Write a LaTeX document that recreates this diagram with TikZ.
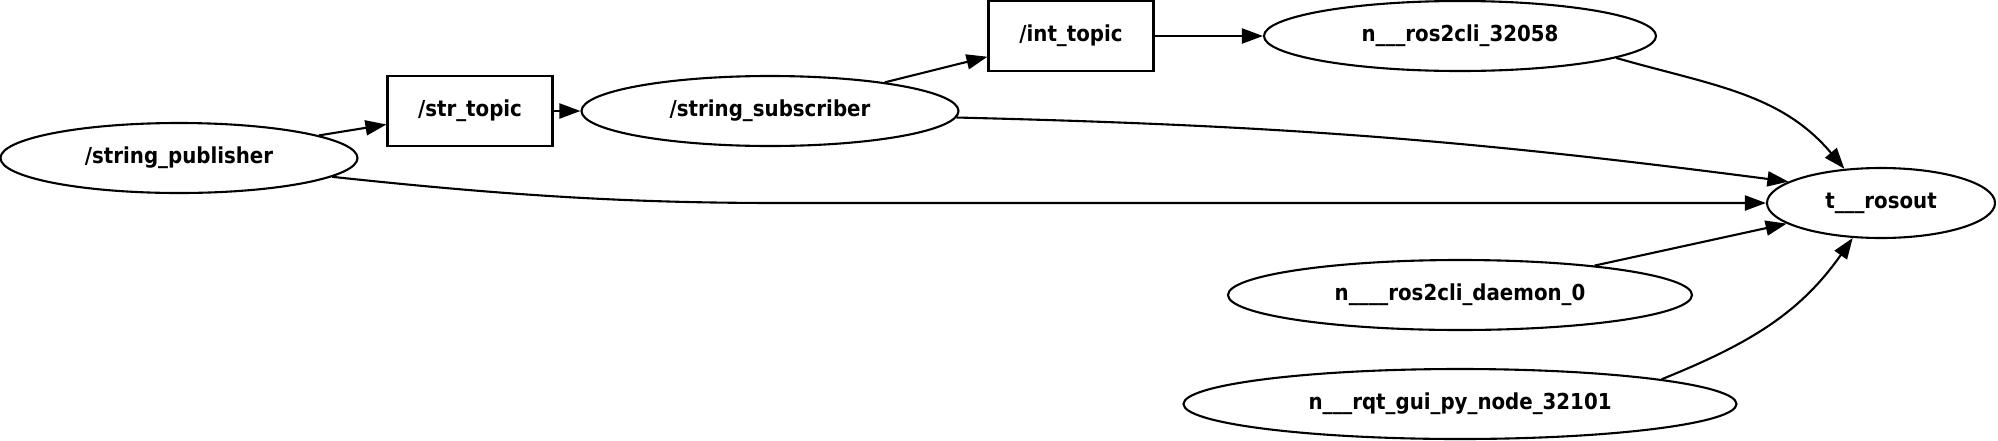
\documentclass[tikz,border=0pt]{standalone}
\usepackage{fontspec}
\setmainfont{DejaVu Sans Condensed}
\usetikzlibrary{shapes.geometric,arrows.meta}

\begin{document}
\begin{tikzpicture}[
    x=1pt, y=-1pt,
    every node/.style={draw, line width=2.1pt, inner sep=0pt,
      font=\fontsize{22}{26}\selectfont\bfseries},
    rosnode/.style={ellipse, minimum width=#1, minimum height=70},
    topic/.style={rectangle, minimum width=165, minimum height=70},
    edge/.style={line width=2.1pt, -{Triangle[length=21pt,width=15pt]}}
]
\useasboundingbox (0,0) rectangle (1998,440);

% ================= nodes =================

\node[rosnode=357] (pub)   at (179,158)  {/string\_publisher};
\node[topic]       (str)   at (470,111)  {/str\_topic};
\node[rosnode=377] (sub)   at (770,111)  {/string\_subscriber};
\node[topic]       (int)   at (1071,36)  {/int\_topic};
\node[rosnode=392] (cli)   at (1460,36)  {n\_\_\_ros2cli\_32058};
\node[rosnode=228] (ros)   at (1881,203) {t\_\_\_rosout};
\node[rosnode=464] (daem)  at (1460,295) {n\_\_\_\_ros2cli\_daemon\_0};
\node[rosnode=553] (rqt)   at (1460,404) {n\_\_\_rqt\_gui\_py\_node\_32101};

% ================= edges =================

\draw[edge] (pub) -- (str);
\draw[edge] (str) -- (sub);
\draw[edge] (sub) -- (int);
\draw[edge] (int) -- (cli);
\draw[edge] (cli.-8) to[out=-16, in=130] (ros.137);
\draw[edge] (sub.-2) to[bend left=3] (ros.167);
\draw[edge] (pub.-7) .. controls (520,197) and (640,203) .. (780,203) -- (ros.west);
\draw[edge] (daem) -- (ros);
\draw[edge] (rqt.7) to[out=22, in=-125] (ros.-129);

\end{tikzpicture}
\end{document}
